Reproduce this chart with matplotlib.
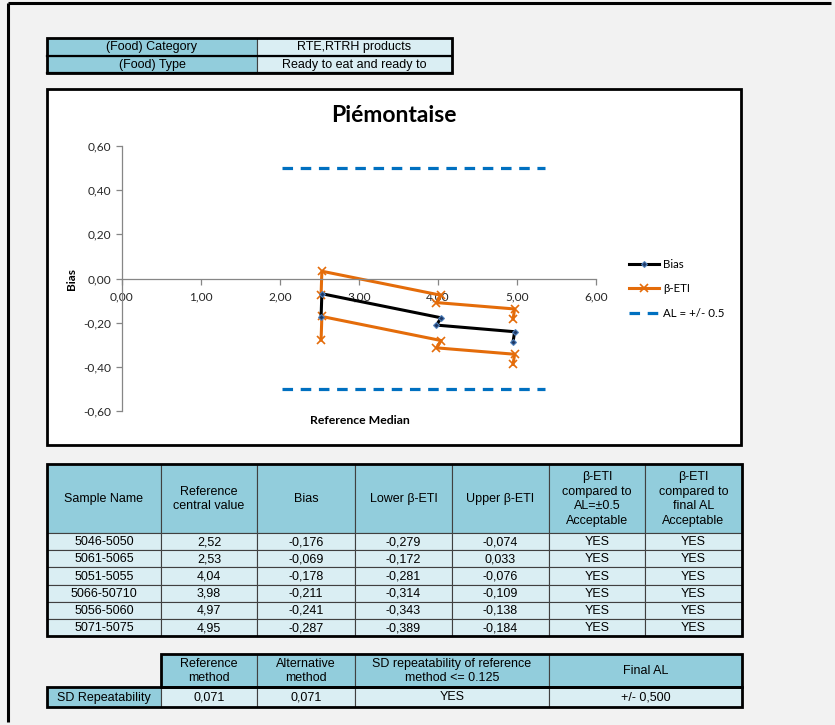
import matplotlib
matplotlib.use('Agg')
import matplotlib.pyplot as plt
from matplotlib.patches import Rectangle
from matplotlib.ticker import FuncFormatter, MultipleLocator

# ---------------- data ----------------
food_labels = ['(Food) Category', '(Food) Type']
food_values = ['RTE,RTRH products', 'Ready to eat and ready to']

chart_title = 'Piémontaise'
sample_names = ['5046-5050', '5061-5065', '5051-5055', '5066-50710', '5056-5060', '5071-5075']
ref_values = [2.52, 2.53, 4.04, 3.98, 4.97, 4.95]
bias = [-0.176, -0.069, -0.178, -0.211, -0.241, -0.287]
lower_eti = [-0.279, -0.172, -0.281, -0.314, -0.343, -0.389]
upper_eti = [-0.074, 0.033, -0.076, -0.109, -0.138, -0.184]
accept_al = ['YES', 'YES', 'YES', 'YES', 'YES', 'YES']
accept_final = ['YES', 'YES', 'YES', 'YES', 'YES', 'YES']
al_x = [2.02, 5.35]
al_limit = 0.5

table_headers = ['Sample Name', 'Reference\ncentral value', 'Bias', 'Lower β-ETI',
                 'Upper β-ETI', 'β-ETI\ncompared to\nAL=±0.5\nAcceptable',
                 'β-ETI\ncompared to\nfinal AL\nAcceptable']
sd_headers = ['Reference\nmethod', 'Alternative\nmethod',
              'SD repeatability of reference\nmethod <= 0.125', 'Final AL']
sd_row = ['SD Repeatability', '0,071', '0,071', 'YES', '+/- 0,500']

# ---------------- style ----------------
W, H = 835, 725
BG = '#f2f2f2'
HDR = '#92cddc'
CELL = '#daeef3'
ORANGE = '#e46c0a'
BLUE = '#0070c0'
TFONT = 'Liberation Sans'
CFONT = 'Lato'

fig = plt.figure(figsize=(W / 100, H / 100), dpi=100)
fig.patch.set_facecolor(BG)
fig.patch.set_linewidth(0)

bg = fig.add_axes([0, 0, 1, 1], zorder=0)
bg.set_xlim(0, W)
bg.set_ylim(H, 0)
bg.axis('off')

# outer page frame (left and top edges only)
bg.plot([8, 8], [3, H - 3], color='black', lw=2.2, solid_capstyle='butt')
bg.plot([8, W - 4], [3, 3], color='black', lw=2.2, solid_capstyle='butt')


def cell(x0, y0, x1, y1, color, text, fs=9, edge='#404040', lw=0.8):
    bg.add_patch(Rectangle((x0, y0), x1 - x0, y1 - y0, facecolor=color,
                           edgecolor=edge, lw=lw, zorder=1))
    if text:
        bg.text((x0 + x1) / 2, (y0 + y1) / 2 + 0.5, text, ha='center', va='center',
                fontsize=fs, family=TFONT, color='black', linespacing=1.3, zorder=3)


def frame(x0, y0, x1, y1, lw=2.0):
    bg.add_patch(Rectangle((x0, y0), x1 - x0, y1 - y0, facecolor='none',
                           edgecolor='black', lw=lw, zorder=4))


# ---------------- top table ----------------
top_cols = [47, 257, 452]
top_rows = [38, 55.5, 73]
for i in range(2):
    cell(top_cols[0], top_rows[i], top_cols[1], top_rows[i + 1], HDR, food_labels[i])
    cell(top_cols[1], top_rows[i], top_cols[2], top_rows[i + 1], CELL, food_values[i])
    bg.plot([top_cols[0], top_cols[2]], [top_rows[i + 1], top_rows[i + 1]],
            color='black', lw=1.6, zorder=4)
frame(top_cols[0], top_rows[0], top_cols[2], top_rows[2])

# ---------------- chart box ----------------
bg.add_patch(Rectangle((47, 89), 741 - 47, 445 - 89, facecolor='white',
                       edgecolor='black', lw=2.0, zorder=1))

ax = fig.add_axes([122 / W, 1 - 411 / H, (596 - 122) / W, (411 - 146) / H], zorder=2)
ax.patch.set_alpha(0)

l_al, = ax.plot(al_x, [al_limit, al_limit], color=BLUE, lw=2.3,
                ls=(0, (3.3, 2.4)), solid_capstyle='butt')
ax.plot(al_x, [-al_limit, -al_limit], color=BLUE, lw=2.3, ls=(0, (3.3, 2.4)))
l_low, = ax.plot(ref_values, lower_eti, color=ORANGE, lw=2.2, marker='x',
                 ms=6, mew=1.2)
ax.plot(ref_values, upper_eti, color=ORANGE, lw=2.2, marker='x', ms=6, mew=1.2)
l_bias, = ax.plot(ref_values, bias, color='black', lw=2.2, marker='D', ms=3,
                  mfc='#1f3864', mec='#4f81bd', mew=0.8)

ax.set_xlim(0, 6)
ax.set_ylim(-0.6, 0.6)
ax.xaxis.set_major_locator(MultipleLocator(1))
ax.yaxis.set_major_locator(MultipleLocator(0.2))
fmt = FuncFormatter(lambda v, p: f'{v:.2f}'.replace('.', ',').replace('-0,00', '0,00'))
ax.xaxis.set_major_formatter(fmt)
ax.yaxis.set_major_formatter(fmt)
for s in ['top', 'right']:
    ax.spines[s].set_visible(False)
ax.spines['bottom'].set_position(('data', 0))
for s in ['left', 'bottom']:
    ax.spines[s].set_color('#868686')
    ax.spines[s].set_linewidth(0.9)
ax.tick_params(axis='both', direction='out', length=4, width=0.9, color='#868686',
               labelsize=8.6, labelcolor='#262626')
ax.tick_params(axis='x', pad=5)
for lab in ax.get_xticklabels() + ax.get_yticklabels():
    lab.set_family(CFONT)

fig.text(394 / W, 1 - 116 / H, chart_title, ha='center', va='center', fontsize=16.5,
         fontweight='bold', family=CFONT)
fig.text(72 / W, 1 - 279 / H, 'Bias', ha='center', va='center', rotation=90,
         fontsize=8.5, fontweight='bold', family=CFONT)
fig.text(360 / W, 1 - 421 / H, 'Reference Median', ha='center', va='center',
         fontsize=8.8, fontweight='bold', family=CFONT)

fig.legend([l_bias, l_low, l_al], ['Bias', 'β-ETI', 'AL = +/- 0.5'],
           loc='center left', bbox_to_anchor=(619 / W, 1 - 289 / H),
           frameon=False, handlelength=2.6, handletextpad=0.3, labelspacing=1.15,
           prop={'family': CFONT, 'size': 8.3})

# ---------------- main table ----------------
cols = [47, 161, 257, 355, 452, 549, 645, 742]
hdr_top, hdr_bot = 464, 533
row_h = 17.2
for j, htxt in enumerate(table_headers):
    cell(cols[j], hdr_top, cols[j + 1], hdr_bot, HDR, htxt)
for i in range(len(sample_names)):
    y0 = hdr_bot + i * row_h
    vals = [sample_names[i], f'{ref_values[i]:.2f}'.replace('.', ','),
            f'{bias[i]:.3f}'.replace('.', ','),
            f'{lower_eti[i]:.3f}'.replace('.', ','),
            f'{upper_eti[i]:.3f}'.replace('.', ','), accept_al[i], accept_final[i]]
    for j, v in enumerate(vals):
        cell(cols[j], y0, cols[j + 1], y0 + row_h, CELL, v)
frame(cols[0], hdr_top, cols[-1], hdr_bot + len(sample_names) * row_h)

# ---------------- SD repeatability table ----------------
sd_cols = [47, 161, 257, 355, 549, 742]
sd_top, sd_mid, sd_bot = 654, 687, 707
for j, htxt in enumerate(sd_headers):
    cell(sd_cols[j + 1], sd_top, sd_cols[j + 2], sd_mid, HDR, htxt)
for j, v in enumerate(sd_row):
    cell(sd_cols[j], sd_mid, sd_cols[j + 1], sd_bot, HDR if j == 0 else CELL, v)
frame(sd_cols[1], sd_top, sd_cols[-1], sd_mid)
frame(sd_cols[0], sd_mid, sd_cols[-1], sd_bot)

fig.savefig('out.png', dpi=100, facecolor=BG)
